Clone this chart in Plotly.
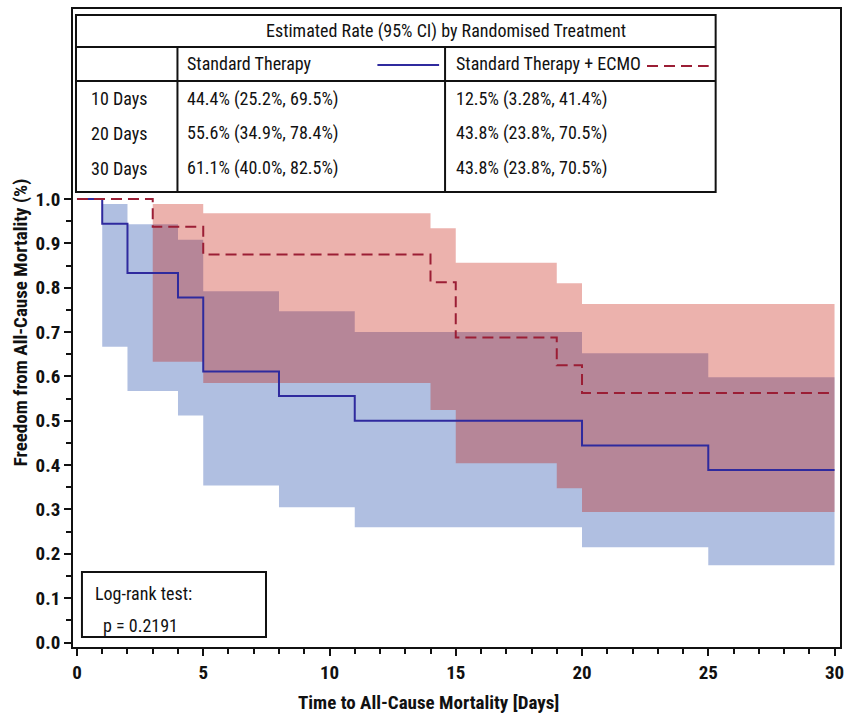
import plotly.graph_objects as go

# ---------------- data ----------------
std_time = [0, 1, 2, 4, 5, 8, 11, 20, 25, 30]
std_surv = [1.0, 0.944, 0.833, 0.778, 0.611, 0.556, 0.500, 0.444, 0.389, 0.389]
std_band_time = [1, 2, 4, 5, 8, 11, 20, 25, 30]
std_upper = [0.989, 0.943, 0.908, 0.792, 0.747, 0.700, 0.652, 0.598]
std_lower = [0.667, 0.567, 0.512, 0.354, 0.305, 0.260, 0.215, 0.174]

ecmo_time = [0, 3, 5, 14, 15, 19, 20, 30]
ecmo_surv = [1.0, 0.9375, 0.875, 0.8125, 0.6875, 0.625, 0.5625, 0.5625]
ecmo_band_time = [3, 5, 14, 15, 19, 20, 30]
ecmo_upper = [0.989, 0.968, 0.934, 0.856, 0.810, 0.763]
ecmo_lower = [0.633, 0.585, 0.524, 0.404, 0.348, 0.294]

table_title = "Estimated Rate (95% CI) by Randomised Treatment"
group_names = ["Standard Therapy", "Standard Therapy + ECMO"]
row_labels = ["10 Days", "20 Days", "30 Days"]
std_rates = ["44.4% (25.2%, 69.5%)", "55.6% (34.9%, 78.4%)", "61.1% (40.0%, 82.5%)"]
ecmo_rates = ["12.5% (3.28%, 41.4%)", "43.8% (23.8%, 70.5%)", "43.8% (23.8%, 70.5%)"]
logrank_lines = ["Log-rank test:", "p = 0.2191"]

x_ticks = [0, 5, 10, 15, 20, 25, 30]
y_ticks = [0.0, 0.1, 0.2, 0.3, 0.4, 0.5, 0.6, 0.7, 0.8, 0.9, 1.0]
x_title = "Time to All-Cause Mortality [Days]"
y_title = "Freedom from All-Cause Mortality (%)"

# ---------------- styling ----------------
W, H = 847, 716
PL, PR, PT, PB = 73, 844, 9, 647   # plot area in pixels
FONT = "Liberation Sans Narrow, Arial Narrow, Roboto Condensed, DejaVu Sans Condensed, sans-serif"
BLUE_LINE = "#2F2A9E"
RED_LINE = "#9B1E35"
BLUE_FILL = "rgba(8,55,161,0.32)"
RED_FILL = "rgba(196,14,0,0.32)"
TXT = 18
TICK = 19
TITLE = 19


def px(x):
    return (x - PL) / (PR - PL)


def py(y):
    return (PB - y) / (PB - PT)


def band_polygon(times, upper, lower):
    xs, ys = [], []
    for i in range(len(upper)):
        xs += [times[i], times[i + 1]]
        ys += [upper[i], upper[i]]
    for i in reversed(range(len(lower))):
        xs += [times[i + 1], times[i]]
        ys += [lower[i], lower[i]]
    xs.append(xs[0])
    ys.append(ys[0])
    return xs, ys


fig = go.Figure()

bx, by = band_polygon(std_band_time, std_upper, std_lower)
fig.add_trace(go.Scatter(x=bx, y=by, fill="toself", fillcolor=BLUE_FILL,
                         line=dict(width=0), mode="lines", hoverinfo="skip",
                         showlegend=False))
rx, ry = band_polygon(ecmo_band_time, ecmo_upper, ecmo_lower)
fig.add_trace(go.Scatter(x=rx, y=ry, fill="toself", fillcolor=RED_FILL,
                         line=dict(width=0), mode="lines", hoverinfo="skip",
                         showlegend=False))

fig.add_trace(go.Scatter(x=std_time, y=std_surv, mode="lines", line_shape="hv",
                         line=dict(color=BLUE_LINE, width=2),
                         name=group_names[0], showlegend=False))
fig.add_trace(go.Scatter(x=ecmo_time, y=ecmo_surv, mode="lines", line_shape="hv",
                         line=dict(color=RED_LINE, width=2, dash="11px,6px"),
                         name=group_names[1], showlegend=False))

x_per_px = 30 / (838.5 - 77)
y_per_px = 1.0 / (642.5 - 199)
x_range = [-(77 - PL) * x_per_px, 30 + (PR - 838.5) * x_per_px]
y_range = [-(PB - 642.5) * y_per_px, (642.5 - PT) * y_per_px]

tickfont = dict(family=FONT, size=TICK, color="#111", weight="bold")

fig.update_xaxes(range=x_range, tickvals=x_ticks, ticktext=[str(v) for v in x_ticks],
                 ticks="outside", ticklen=7, tickwidth=1.5, tickcolor="#111",
                 minor=dict(tickvals=list(range(0, 31)), ticks="outside", ticklen=5,
                            tickwidth=1.5, tickcolor="#111"),
                 showline=True, linecolor="#111", linewidth=1.8, mirror=True,
                 showgrid=False, zeroline=False, tickfont=tickfont)
fig.update_yaxes(range=y_range, tickvals=y_ticks, ticktext=[f"{v:.1f}" for v in y_ticks],
                 ticks="outside", ticklen=7, tickwidth=1.5, tickcolor="#111",
                 minor=dict(tickvals=[round(0.05 + 0.1 * i, 2) for i in range(10)],
                            ticks="outside", ticklen=5, tickwidth=1.5, tickcolor="#111"),
                 showline=True, linecolor="#111", linewidth=1.8, mirror=True,
                 showgrid=False, zeroline=False, tickfont=tickfont)

shapes = []
annotations = []
LINE = dict(color="#111", width=2)


def hline(x0, x1, y):
    shapes.append(dict(type="line", xref="paper", yref="paper",
                       x0=px(x0), x1=px(x1), y0=py(y), y1=py(y), line=LINE))


def vline(x, y0, y1):
    shapes.append(dict(type="line", xref="paper", yref="paper",
                       x0=px(x), x1=px(x), y0=py(y0), y1=py(y1), line=LINE))


def text(s, x, y, anchor="left", size=TXT, bold=False):
    annotations.append(dict(text=s, xref="paper", yref="paper", x=px(x), y=py(y),
                            xanchor=anchor, yanchor="middle", showarrow=False,
                            font=dict(family=FONT, size=size, color="#111",
                                      weight="bold" if bold else "normal")))


# table
shapes.append(dict(type="rect", xref="paper", yref="paper",
                   x0=px(76), x1=px(719), y0=py(192), y1=py(15),
                   line=LINE, fillcolor="white", layer="above"))
hline(76, 719, 47)
hline(76, 719, 81)
vline(178, 47, 192)
vline(447, 47, 192)

text(table_title, 448, 31, anchor="center")
text(group_names[0], 186, 63)
text(group_names[1], 456, 63)
shapes.append(dict(type="line", xref="paper", yref="paper", x0=px(379), x1=px(441),
                   y0=py(65), y1=py(65), line=dict(color=BLUE_LINE, width=2)))
shapes.append(dict(type="line", xref="paper", yref="paper", x0=px(650), x1=px(712),
                   y0=py(66), y1=py(66), line=dict(color=RED_LINE, width=2, dash="11px,6px")))
row_y = [99, 133, 168]
for lab, a, b, yy in zip(row_labels, std_rates, ecmo_rates, row_y):
    text(lab, 89, yy)
    text(a, 186, yy)
    text(b, 456, yy)

# log-rank box
shapes.append(dict(type="rect", xref="paper", yref="paper",
                   x0=px(82), x1=px(267), y0=py(637), y1=py(572),
                   line=LINE, fillcolor="white", layer="above"))
text(logrank_lines[0], 93, 593)
text(logrank_lines[1], 101, 625)

# axis titles
annotations.append(dict(text=x_title, xref="paper", yref="paper", x=px(430), y=py(702),
                        xanchor="center", yanchor="middle", showarrow=False,
                        font=dict(family=FONT, size=TITLE, color="#111", weight="bold")))
annotations.append(dict(text=y_title, xref="paper", yref="paper", x=px(21), y=py(322),
                        xanchor="center", yanchor="middle", showarrow=False, textangle=-90,
                        font=dict(family=FONT, size=TITLE, color="#111", weight="bold")))

fig.update_layout(width=W, height=H, margin=dict(l=PL, r=W - PR, t=PT, b=H - PB),
                  paper_bgcolor="white", plot_bgcolor="white",
                  shapes=shapes, annotations=annotations, showlegend=False)

fig.write_html("out.html")
